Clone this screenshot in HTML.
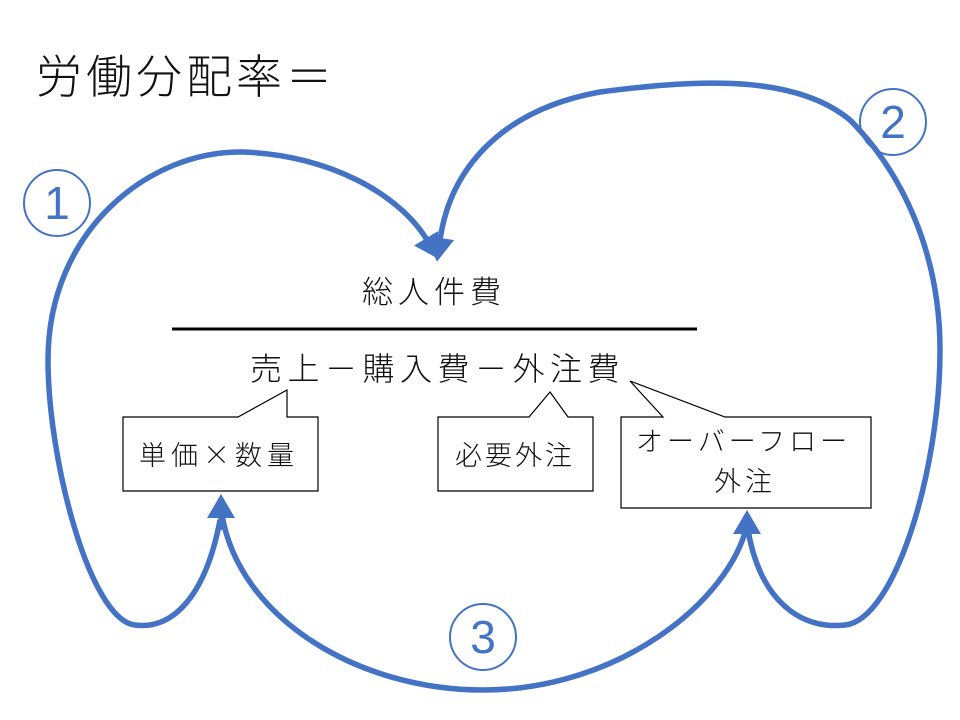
<!DOCTYPE html>
<html><head><meta charset="utf-8"><style>
body{margin:0;width:960px;height:720px;background:#fff;overflow:hidden}
svg{display:block}
text{font-family:"Noto Sans CJK JP","Liberation Sans",sans-serif;fill:#111;font-weight:300}
.n{font-family:"Liberation Sans",sans-serif;font-weight:400}
</style></head><body>
<svg width="960" height="720" viewBox="0 0 960 720">
<defs>
<marker id="ah" markerWidth="24" markerHeight="28" refX="2" refY="14" orient="auto" markerUnits="userSpaceOnUse">
<path d="M0,0 L24,14 L0,28 z" fill="#4472C4"/>
</marker>
</defs>
<g fill="none" stroke="#4472C4" stroke-width="5.5">
<path d="M220,520 C205,600 170,630 135,625 C90,620 48,460 48,360 C48,230 150,150 243,152 C330,155 400,195 427,240" marker-end="url(#ah)"/>
<path d="M748,530 C760,600 800,630 845,625 C895,620 940,470 940,350 C940,250 900,170 850,120 C790,70 680,82 600,92 C500,110 450,170 440,240" marker-end="url(#ah)"/>
<path d="M222,515 C240,620 360,690 483,690 C620,690 730,600 747,525"/>
<path d="M221,530 L221,516" marker-end="url(#ah)"/>
<path d="M747,535 L747,532" marker-end="url(#ah)"/>
</g>
<g fill="none" stroke="#4472C4" stroke-width="2">
<circle cx="57" cy="203" r="33"/>
<circle cx="893" cy="122" r="33"/>
<circle cx="483" cy="637" r="33"/>
</g>
<text class="n" x="57" y="219" font-size="46" text-anchor="middle" style="fill:#4472C4">1</text>
<text class="n" x="893" y="138" font-size="46" text-anchor="middle" style="fill:#4472C4">2</text>
<text class="n" x="483" y="653" font-size="46" text-anchor="middle" style="fill:#4472C4">3</text>

<text x="36" y="93" font-size="46" letter-spacing="4">労働分配率＝</text>
<text x="362" y="303" font-size="31" letter-spacing="5">総人件費</text>
<line x1="172" y1="329" x2="697" y2="329" stroke="#000" stroke-width="3"/>
<text x="250" y="380" font-size="32" letter-spacing="5.5">売上－購入費－外注費</text>

<g fill="#fff" stroke="#000" stroke-width="1.2">
<path d="M123,417 H238 L287,390 V417 H318 V491 H123 Z"/>
<path d="M438,417 H529 L550,392 L568,417 H593 V491 H438 Z"/>
<path d="M621,417 H663 L630,381 L725,417 H871 V508 H621 Z"/>
</g>
<text x="139" y="465" font-size="27" letter-spacing="5">単価×数量</text>
<text x="455" y="465" font-size="27" letter-spacing="3">必要外注</text>
<text x="636" y="451" font-size="27" letter-spacing="4">オーバーフロー</text>
<text x="714" y="491" font-size="27" letter-spacing="4">外注</text>
</svg>
</body></html>
